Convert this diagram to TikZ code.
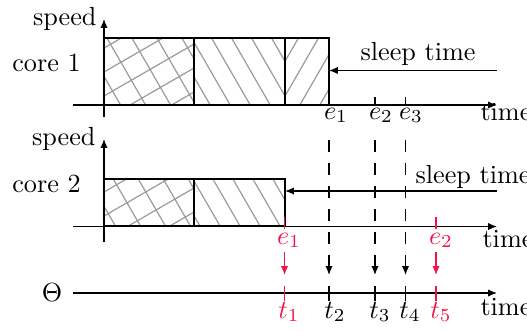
\documentclass[tikz,border=0pt]{standalone}
\usetikzlibrary{arrows.meta,calc}
\definecolor{myred}{RGB}{240,20,70}
\begin{document}
\begin{tikzpicture}[x=0.382pt,y=-0.382pt,
  axis/.style={line width=0.5pt},
  arr/.style={line width=0.5pt,-{Latex[length=3.4pt,width=2.8pt]}},
  boxline/.style={line width=0.55pt},
  hatch/.style={line width=0.45pt,black!40},
  dashline/.style={line width=0.55pt,dash pattern=on 4.6pt off 4.2pt},
  lbl/.style={inner sep=0pt,anchor=base},
  redl/.style={inner sep=0pt,anchor=base,text=myred},
  redtick/.style={line width=0.5pt,myred},
  redarr/.style={line width=0.5pt,myred,-{Latex[length=3.4pt,width=2.8pt]}},
]
\useasboundingbox (0,0) rectangle (527,330);

% ---------- hatching core 1 ----------
\begin{scope}
  \clip (104,38) rectangle (194,105);
  \foreach \c in {-40,-15,...,200} \draw[hatch] (\c,0) -- ({\c+0.577*330},330);
  \foreach \e in {60,84,...,300} \draw[hatch] (0,\e) -- (400,{\e-0.577*400});
\end{scope}
\begin{scope}
  \clip (194,38) rectangle (285,105);
  \foreach \c in {9.6,29.6,...,300} \draw[hatch] (\c,0) -- ({\c+0.577*330},330);
\end{scope}
\begin{scope}
  \clip (285,38) rectangle (329,105);
  \foreach \d in {300.4,320.4,...,420} \draw[hatch] (\d,0) -- ({\d-0.577*330},330);
\end{scope}

% ---------- hatching core 2 ----------
\begin{scope}
  \clip (104,179) rectangle (194,226);
  \foreach \c in {-140,-115,...,200} \draw[hatch] (\c,0) -- ({\c+0.577*330},330);
  \foreach \e in {60,84,...,400} \draw[hatch] (0,\e) -- (400,{\e-0.577*400});
\end{scope}
\begin{scope}
  \clip (194,179) rectangle (285,226);
  \foreach \c in {-90.4,-70.4,...,300} \draw[hatch] (\c,0) -- ({\c+0.577*330},330);
\end{scope}

% ---------- boxes ----------
\draw[boxline] (104,38) rectangle (194,105);
\draw[boxline] (194,38) rectangle (285,105);
\draw[boxline] (285,38) rectangle (329,105);
\draw[boxline] (104,179) rectangle (194,226);
\draw[boxline] (194,179) rectangle (285,226);

% ---------- core 1 axes ----------
\coordinate (h1s) at (73,105);  \coordinate (h1e) at (497,105);
\coordinate (v1s) at (104,117); \coordinate (v1e) at (104,19);
\draw[arr] (h1s) -- (h1e);
\draw[arr] (v1s) -- (v1e);
\coordinate (k2a) at (375,97); \coordinate (k2b) at (375,106);
\coordinate (k3a) at (405.5,97); \coordinate (k3b) at (405.5,106);
\draw[axis] (k2a) -- (k2b);
\draw[axis] (k3a) -- (k3b);
\coordinate (s1s) at (497,70.5); \coordinate (s1e) at (329,70.5);
\draw[arr] (s1s) -- (s1e);

\node[lbl,anchor=base east] (sp1) at (97,25) {speed};
\node[lbl] (c1) at (46.5,71) {core 1};
\node[lbl,anchor=base west] (sl1) at (360,60) {sleep time};
\node[lbl] (e1) at (336,119) {$e_1$};
\node[lbl] (e2) at (381,119) {$e_2$};
\node[lbl] (e3) at (411,119) {$e_3$};
\node[lbl,anchor=base west] (tm1) at (480,120) {time};

% ---------- core 2 axes ----------
\coordinate (h2s) at (73,226.5);  \coordinate (h2e) at (497,226.5);
\coordinate (v2s) at (104,242); \coordinate (v2e) at (104,139);
\draw[arr] (h2s) -- (h2e);
\draw[arr] (v2s) -- (v2e);
\coordinate (s2s) at (497,191); \coordinate (s2e) at (285,191);
\draw[arr] (s2s) -- (s2e);
\coordinate (r1a) at (284.5,217); \coordinate (r1b) at (284.5,229);
\coordinate (r2a) at (436,217); \coordinate (r2b) at (436,229);
\draw[redtick] (r1a) -- (r1b);
\draw[redtick] (r2a) -- (r2b);

\node[lbl,anchor=base east] (sp2) at (96,145) {speed};
\node[lbl] (c2) at (46.5,192) {core 2};
\node[lbl,anchor=base west] (sl2) at (415,183) {sleep time};
\node[redl] (re1) at (289,244) {$e_1$};
\node[redl] (re2) at (441,244) {$e_2$};
\node[lbl,anchor=base west] (tm2) at (482,247) {time};

% ---------- Theta axis ----------
\coordinate (h3s) at (73,293);  \coordinate (h3e) at (497,293);
\draw[arr] (h3s) -- (h3e);
\node[inner sep=0pt] (th) at (52,293) {$\Theta$};
\node[lbl,anchor=base west] (tm3) at (480,315) {time};
\foreach \x/\n in {329/2,375/3,405.5/4}{
  \coordinate (t\n a) at (\x,286); \coordinate (t\n b) at (\x,301);
  \draw[axis] (t\n a) -- (t\n b);
}
\coordinate (t1a) at (284.5,286); \coordinate (t1b) at (284.5,301);
\coordinate (t5a) at (436,286); \coordinate (t5b) at (436,301);
\draw[redtick] (t1a) -- (t1b);
\draw[redtick] (t5a) -- (t5b);
\node[redl] (lt1) at (289,318) {$t_1$};
\node[lbl] (lt2) at (335,318) {$t_2$};
\node[lbl] (lt3) at (380,318) {$t_3$};
\node[lbl] (lt4) at (410,318) {$t_4$};
\node[redl] (lt5) at (441,318) {$t_5$};

% ---------- dashed and red arrows ----------
\foreach \x/\n in {329/1,375/2,405.5/3}{
  \coordinate (d\n s) at (\x,140); \coordinate (d\n e) at (\x,275);
  \draw[dashline] (d\n s) -- ($(d\n e)+(0,-8)$);
  \draw[arr] ($(d\n e)+(0,-9)$) -- (d\n e);
}
\coordinate (ra1s) at (284.5,252); \coordinate (ra1e) at (284.5,275);
\coordinate (ra2s) at (436,252); \coordinate (ra2e) at (436,275);
\draw[redarr] (ra1s) -- (ra1e);
\draw[redarr] (ra2s) -- (ra2e);
\end{tikzpicture}
\end{document}
